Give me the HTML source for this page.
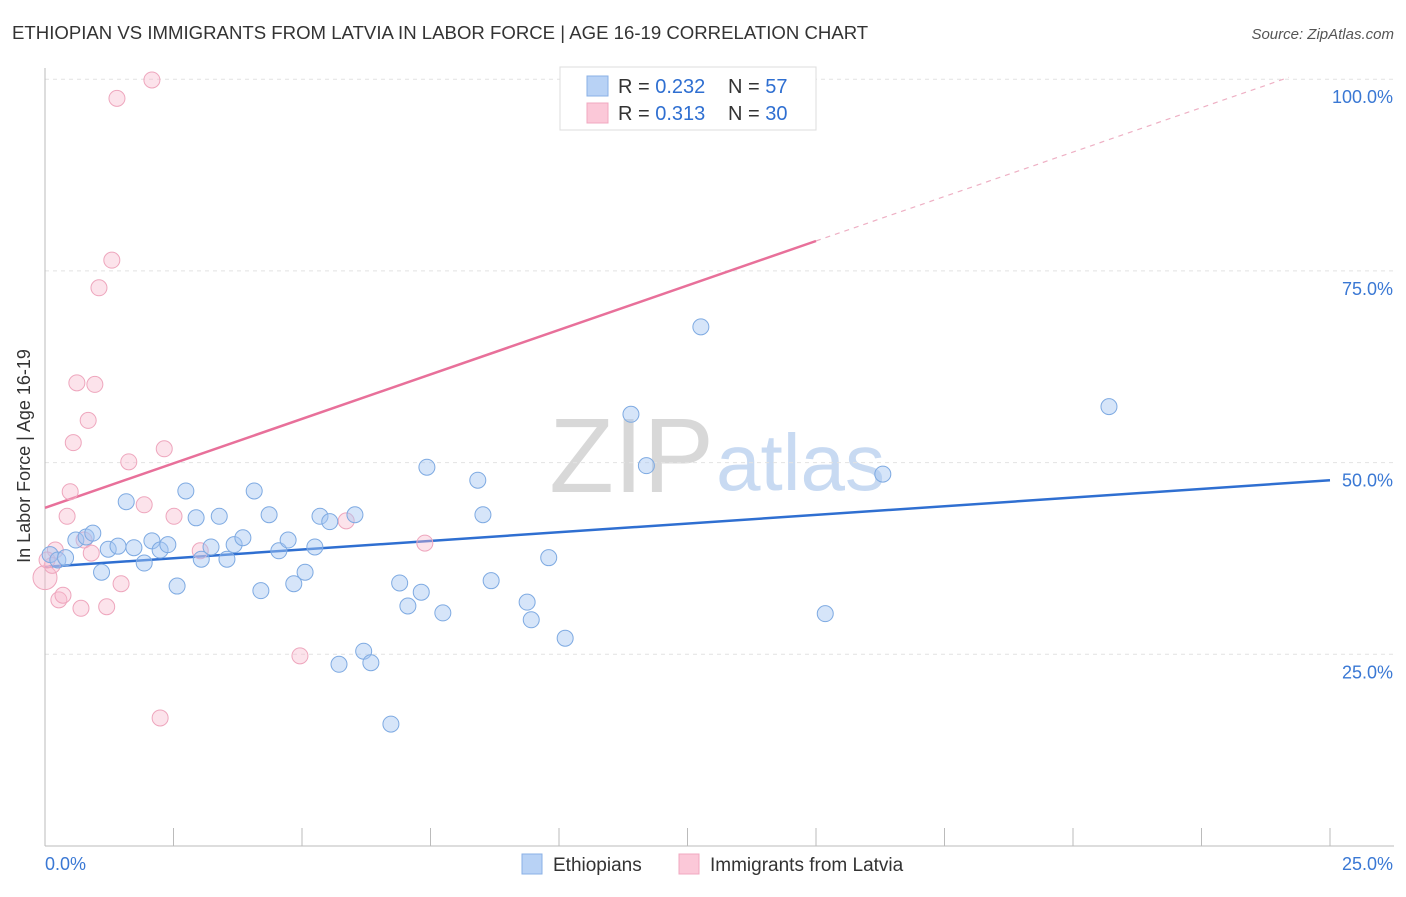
<!DOCTYPE html>
<html><head><meta charset="utf-8"><style>
body{margin:0;background:#fff;font-family:"Liberation Sans",sans-serif;}
svg text{font-family:"Liberation Sans",sans-serif;}
</style></head><body>
<svg id="chart" width="1406" height="892">
<text x="12" y="39" font-size="18.6" fill="#333">ETHIOPIAN VS IMMIGRANTS FROM LATVIA IN LABOR FORCE | AGE 16-19 CORRELATION CHART</text>
<text x="1394" y="39" font-size="15" fill="#555" font-style="italic" text-anchor="end">Source: ZipAtlas.com</text>
<text x="714" y="492" font-size="106" fill="#d8d8d8" text-anchor="end" font-family="Liberation Serif">ZIP</text>
<text x="716" y="490" font-size="80" fill="#c8daf2">atlas</text>
<g id="grid"></g>
<g id="axes"></g>
<g id="lines"></g>
<g id="points"></g>
<text x="30" y="456" font-size="18" fill="#333" text-anchor="middle" transform="rotate(-90 30 456)">In Labor Force | Age 16-19</text>
<g>
<rect x="560" y="67" width="256" height="63" fill="#fff" stroke="#ddd"/>
<rect x="587" y="76" width="21" height="20" fill="#b8d2f5" stroke="#8ab0e6"/>
<rect x="587" y="103" width="21" height="20" fill="#fbc8d8" stroke="#f0a8c0"/>
<text x="618" y="93" font-size="20" fill="#333">R = <tspan fill="#2f6fd1">0.232</tspan></text>
<text x="728" y="93" font-size="20" fill="#333">N = <tspan fill="#2f6fd1"> 57</tspan></text>
<text x="618" y="120" font-size="20" fill="#333">R = <tspan fill="#2f6fd1"> 0.313</tspan></text>
<text x="728" y="120" font-size="20" fill="#333">N = <tspan fill="#2f6fd1">30</tspan></text>
</g>
<g>
<rect x="522" y="854" width="20" height="20" fill="#b8d2f5" stroke="#8ab0e6"/>
<text x="553" y="871" font-size="19" fill="#333">Ethiopians</text>
<rect x="679" y="854" width="20" height="20" fill="#fbc8d8" stroke="#f0a8c0"/>
<text x="710" y="871" font-size="19" fill="#333">Immigrants from Latvia</text>
</g>
</svg>
<script>
const xTicks=[0,2.5,5,7.5,10,12.5,15,17.5,20,22.5,25];
const yTicks=[25,50,75,100];
const yTickLabels=["25.0%","50.0%","75.0%","100.0%"];
const blueX=[0.1,0.25,0.4,0.6,0.8,0.93,1.1,1.23,1.42,1.58,1.73,1.93,2.08,2.24,2.39,2.57,2.74,2.94,3.04,3.23,3.39,3.54,3.68,3.85,4.07,4.2,4.36,4.55,4.73,4.84,5.06,5.25,5.35,5.54,5.72,6.03,6.2,6.34,6.73,6.9,7.06,7.32,7.43,7.74,8.42,8.52,8.68,9.38,9.46,9.8,10.12,11.4,11.7,12.76,15.18,16.3,20.7];
const blueY=[38.0,37.3,37.6,39.9,40.3,40.8,35.7,38.7,39.1,44.9,38.9,36.9,39.8,38.6,39.3,33.9,46.3,42.8,37.4,39.0,43.0,37.4,39.3,40.2,46.3,33.3,43.2,38.5,39.9,34.2,35.7,39.0,43.0,42.3,23.7,43.2,25.4,23.9,15.9,34.3,31.3,33.1,49.4,30.4,47.7,43.2,34.6,31.8,29.5,37.6,27.1,56.3,49.6,67.7,30.3,48.5,57.3];
const pinkX=[0,0.14,0.2,0.27,0.35,0.43,0.49,0.55,0.62,0.7,0.76,0.84,0.9,0.97,1.05,1.2,1.3,1.4,1.48,1.63,1.93,2.08,2.24,2.32,2.51,3.02,4.96,5.86,7.39,0.04];
const pinkY=[35.0,36.6,38.6,32.1,32.7,43.0,46.2,52.6,60.4,31.0,39.9,55.5,38.2,60.2,72.8,31.2,76.4,97.5,34.2,50.1,44.5,99.9,16.7,51.8,43.0,38.5,24.8,42.4,39.5,37.3];
const blueLine=[36.4,47.7];
const pinkLine=[44.1,78.9];
const NS="http://www.w3.org/2000/svg";
const X=v=>45+v/25*1285;
const Y=v=>846-v*7.668;
function mk(tag,attrs,parent){const e=document.createElementNS(NS,tag);for(const k in attrs)e.setAttribute(k,attrs[k]);document.getElementById(parent).appendChild(e);return e;}
yTicks.forEach((t,i)=>{
 const g=mk('line',{x1:45,x2:1394,y1:Y(t),y2:Y(t),stroke:'#e2e2e2','stroke-dasharray':'4,4'},'grid');
 
 
 const l=mk('text',{x:1393,y:Y(t)+24,'font-size':18,fill:'#3a78d4','text-anchor':'end'},'axes');
 l.textContent=yTickLabels[i];
 
 
});
const ya=mk('line',{x1:45,x2:45,y1:68,y2:846,stroke:'#bbb'},'axes');


const xa=mk('line',{x1:45,x2:1394,y1:846,y2:846,stroke:'#bbb'},'axes');


xTicks.forEach(t=>{
 const k=mk('line',{x1:X(t),x2:X(t),y1:828,y2:846,stroke:'#bbb'},'axes');
 
 
});
const x0=mk('text',{x:45,y:870,'font-size':18,fill:'#3a78d4'},'axes');x0.textContent="0.0%";


const x1=mk('text',{x:1393,y:870,'font-size':18,fill:'#3a78d4','text-anchor':'end'},'axes');x1.textContent="25.0%";


const pSlope=(pinkLine[1]-pinkLine[0])/15;
const pd=mk('line',{x1:X(15),y1:Y(pinkLine[1]),x2:X(24.2),y2:Y(pinkLine[0]+pSlope*24.2),stroke:'#eeb0c4','stroke-dasharray':'5,5','stroke-width':1.2},'lines');


const pl=mk('line',{x1:X(0),y1:Y(pinkLine[0]),x2:X(15),y2:Y(pinkLine[1]),stroke:'#e8709a','stroke-width':2.5},'lines');


const bl=mk('line',{x1:X(0),y1:Y(blueLine[0]),x2:X(25),y2:Y(blueLine[1]),stroke:'#2f6fd1','stroke-width':2.5},'lines');


pinkX.forEach((v,i)=>{
 const c=mk('circle',{cx:X(v),cy:Y(pinkY[i]),r:i===0?12:8,fill:'rgba(248,185,205,0.4)',stroke:'#eea6bd','stroke-width':1},'points');
 
 
});
blueX.forEach((v,i)=>{
 const c=mk('circle',{cx:X(v),cy:Y(blueY[i]),r:8,fill:'rgba(165,198,242,0.45)',stroke:'#7eaae2','stroke-width':1},'points');
 
 
});
</script>
</body></html>
